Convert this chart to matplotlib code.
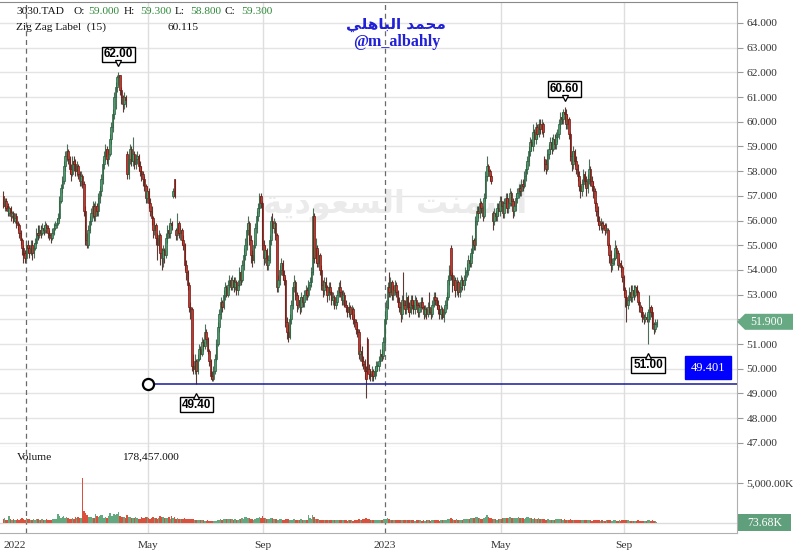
import matplotlib
matplotlib.use("Agg")
import matplotlib.pyplot as plt
import numpy as np
from matplotlib.patches import Polygon
from matplotlib.transforms import IdentityTransform, offset_copy

# ---------------- data ----------------
opens = [
57.0,56.6,56.8,56.6,56.3,56.5,56.2,56.3,56.0,56.2,
55.9,55.8,55.5,55.2,54.9,54.7,54.5,55.0,54.9,54.7,
55.0,54.7,54.9,55.1,55.5,55.4,55.6,55.5,55.7,55.6,
55.8,55.7,55.5,55.4,55.3,55.5,55.7,55.8,55.9,56.1,
56.8,57.3,57.6,58.2,58.6,58.8,58.5,58.1,57.9,58.4,
58.3,58.0,58.2,57.9,57.6,57.8,57.5,56.4,55.2,55.0,
55.6,56.0,56.3,56.6,56.2,56.6,56.4,56.9,57.2,57.7,
58.3,58.6,58.9,58.5,58.7,59.3,59.8,60.3,61.0,61.4,
61.8,61.9,61.3,61.0,60.7,61.0,58.7,57.9,58.5,58.9,
58.4,58.7,58.3,58.5,58.6,58.2,58.0,57.9,57.7,57.4,
56.9,57.2,56.7,56.4,56.1,55.6,55.8,55.3,55.0,55.4,
54.7,54.5,54.8,54.6,55.3,55.6,55.5,55.9,57.0,57.7,
55.6,55.4,55.9,55.5,55.6,55.2,55.0,54.2,53.9,53.4,
52.5,52.4,50.1,50.0,50.3,49.9,50.4,50.8,50.6,51.1,
50.9,51.5,51.2,50.7,50.3,49.7,49.6,49.9,50.4,51.0,
51.7,52.2,52.7,52.5,53.0,53.3,53.0,53.4,53.6,53.3,
53.6,53.3,53.5,53.2,53.4,53.9,53.6,54.2,54.6,55.0,
55.6,55.9,55.2,54.6,54.4,55.0,55.7,56.2,56.5,57.0,
56.7,55.0,54.5,54.8,54.2,54.4,55.2,56.0,55.7,55.9,
55.4,53.3,53.6,54.0,54.3,53.8,53.6,51.9,51.5,51.3,
52.0,52.6,53.3,53.5,53.0,52.6,52.8,52.5,52.9,52.7,
53.0,53.2,53.0,53.4,53.5,53.9,56.2,54.5,54.9,54.3,
54.6,54.0,53.4,53.2,53.5,53.3,53.0,53.3,53.1,52.8,
52.9,52.6,52.7,53.0,53.3,53.1,52.8,53.0,52.6,52.5,
52.3,52.5,52.2,52.4,52.0,51.9,51.6,51.5,50.6,50.7,
50.3,50.2,49.9,51.2,50.0,49.8,49.7,49.9,49.7,49.9,
50.1,50.1,50.3,50.6,50.5,51.1,52.0,52.5,53.3,53.1,
53.5,53.0,53.2,53.4,53.1,52.7,52.5,52.2,52.8,52.6,
52.4,52.9,52.5,52.3,52.8,52.6,52.4,52.8,52.6,52.3,
52.5,52.7,52.5,52.2,52.4,52.2,52.5,52.3,52.2,52.6,
52.9,52.8,52.6,52.4,52.2,52.4,52.1,52.3,52.6,52.9,
53.6,54.9,53.8,53.4,53.6,53.2,53.5,53.1,53.3,53.6,
53.4,53.6,53.9,54.0,54.4,54.3,54.7,55.2,55.0,56.0,
56.4,56.3,56.7,56.5,56.2,56.9,57.8,58.2,58.0,57.8,
56.3,56.0,56.3,56.2,56.5,56.4,56.8,56.6,56.3,56.7,
56.9,56.5,56.7,57.1,56.8,56.4,56.6,56.9,57.1,57.3,
57.2,57.5,57.4,57.8,58.1,58.4,58.8,59.2,59.0,59.6,
59.3,59.8,59.5,59.9,59.7,59.9,58.5,58.3,58.1,58.7,
58.9,59.2,58.9,59.3,59.1,59.4,59.5,59.9,60.2,60.1,
60.4,60.3,59.9,60.1,59.5,58.6,58.3,58.8,58.4,58.1,
57.8,57.4,57.2,57.5,57.9,57.6,57.3,57.7,58.1,57.6,
57.4,57.2,56.7,56.4,56.0,55.8,55.9,55.7,55.8,55.6,
55.6,55.0,54.6,54.2,54.3,54.5,54.9,54.7,54.2,54.3,
54.1,53.7,53.2,52.9,52.6,52.8,53.1,52.9,53.2,53.0,
53.3,53.1,52.7,52.5,52.3,52.1,52.0,52.1,52.0,52.0,
52.5,52.3,51.8,51.6,51.8]

highs = [
57.2,56.9,56.9,56.7,56.6,56.6,56.4,56.4,56.3,56.3,
56.0,55.9,55.6,55.3,55.0,54.8,55.2,55.2,55.0,55.2,
55.2,55.1,55.3,55.7,55.8,55.8,55.8,55.9,55.8,56.0,
55.9,55.8,55.6,55.5,55.7,55.9,56.0,56.1,56.3,57.0,
57.5,57.8,58.4,58.8,59.1,58.9,58.6,58.3,58.6,58.6,
58.5,58.4,58.3,58.0,58.0,57.9,57.6,56.6,55.5,55.8,
56.2,56.5,56.8,56.7,56.8,56.7,57.1,57.4,57.9,58.5,
58.8,59.1,59.0,58.9,59.5,60.0,60.5,61.2,61.6,61.9,
62.0,61.9,61.4,61.1,61.2,61.1,58.8,58.7,59.1,59.0,
59.4,58.8,58.7,58.8,58.7,58.4,58.2,58.0,57.8,57.5,
57.4,57.3,56.9,56.6,56.2,56.0,55.9,55.5,55.6,55.5,
54.9,55.0,54.9,55.5,55.8,55.8,56.1,56.0,57.3,57.7,
55.7,56.3,56.0,55.8,55.7,55.4,55.1,54.4,54.0,53.5,
52.7,52.5,50.6,50.6,50.4,50.6,51.0,50.9,51.3,51.2,
51.8,51.6,51.3,50.8,50.4,49.9,50.1,50.6,51.2,51.9,
52.4,52.9,52.8,53.2,53.5,53.4,53.6,53.8,53.7,53.8,
53.7,53.7,53.6,53.6,54.1,54.0,54.4,54.9,55.3,55.9,
56.2,56.0,55.4,54.8,55.2,55.9,56.4,56.7,57.1,57.1,
56.8,55.2,55.0,54.9,54.6,55.4,56.2,56.3,56.1,56.0,
55.5,53.8,54.2,54.5,54.4,54.0,53.7,52.1,51.8,52.2,
52.8,53.5,53.8,53.6,53.1,53.0,52.9,53.1,53.0,53.2,
53.4,53.3,53.6,53.7,54.1,56.5,56.3,55.3,55.0,54.8,
54.7,54.2,53.6,53.7,53.7,53.4,53.5,53.5,53.2,53.1,
53.0,52.9,53.2,53.5,53.6,53.2,53.2,53.1,52.8,52.6,
52.7,52.6,52.6,52.5,52.2,52.0,51.8,51.6,51.0,50.9,
50.5,50.4,50.1,51.3,50.2,50.0,50.1,50.0,50.1,50.3,
50.3,50.5,50.8,50.8,51.3,52.2,52.8,53.5,53.9,53.7,
53.6,53.4,53.6,53.5,53.2,52.9,52.7,53.0,53.9,52.8,
53.1,53.0,52.7,53.0,53.0,52.8,53.0,52.9,52.7,52.7,
52.9,52.9,52.6,52.6,52.5,52.7,53.1,52.5,52.8,53.1,
53.1,52.9,52.8,52.6,52.6,52.5,52.5,52.8,53.1,53.8,
54.2,55.0,53.9,53.8,53.7,53.7,53.6,53.5,53.8,53.7,
53.8,54.1,54.3,54.6,54.6,54.9,55.4,55.3,56.2,56.6,
56.6,56.9,56.8,56.6,57.1,58.0,58.6,58.3,58.1,57.9,
56.4,56.5,56.4,56.7,56.7,57.0,57.0,56.8,56.9,57.1,
57.1,56.9,57.3,57.2,56.9,56.8,57.1,57.3,57.5,57.5,
57.7,57.7,58.0,58.3,58.6,59.0,59.4,59.3,59.9,59.7,
60.0,59.9,60.1,60.1,60.1,60.0,58.6,58.5,58.9,59.1,
59.4,59.4,59.5,59.5,59.6,59.7,60.1,60.4,60.4,60.5,
60.6,60.5,60.3,60.2,59.6,58.8,59.0,58.9,58.6,58.3,
58.0,57.6,57.7,58.1,58.0,57.8,57.9,58.5,58.2,57.8,
57.6,57.3,56.8,56.6,56.2,56.1,56.0,56.0,55.9,55.9,
55.7,55.1,54.8,54.5,54.7,55.2,55.0,54.8,54.5,54.4,
54.2,53.8,53.3,53.0,53.0,53.3,53.4,53.4,53.4,53.4,
53.4,53.2,52.8,52.6,52.5,52.2,52.3,52.2,52.4,53.0,
52.6,52.5,51.9,52.0,52.0]

lows = [
56.5,56.4,56.4,56.2,56.2,56.0,56.1,55.9,55.9,55.7,
55.6,55.3,55.0,54.6,54.3,54.3,54.4,54.7,54.5,54.6,
54.4,54.5,54.8,55.0,55.2,55.3,55.3,55.4,55.4,55.5,
55.5,55.3,55.2,55.1,55.2,55.4,55.6,55.7,55.8,56.0,
56.7,57.1,57.5,58.0,58.4,58.3,57.9,57.6,57.8,58.0,
57.8,57.8,57.7,57.4,57.4,57.3,56.2,55.0,54.9,54.9,
55.5,55.8,56.1,56.0,56.0,56.2,56.2,56.7,57.0,57.5,
58.1,58.4,58.3,58.2,58.6,59.1,59.6,60.1,60.5,61.2,
61.5,61.1,60.7,60.4,60.5,60.6,57.7,57.7,58.3,58.2,
58.2,58.1,58.1,58.3,58.0,57.8,57.6,57.4,57.2,56.7,
56.7,56.5,56.2,55.8,55.3,55.4,55.0,54.4,54.8,54.2,
54.0,54.1,54.3,54.5,55.1,55.3,55.3,55.6,56.9,56.9,
55.2,55.2,55.3,55.2,55.0,54.8,54.0,53.6,53.2,52.3,
52.0,49.9,49.8,49.8,49.4,49.8,50.3,50.4,50.5,50.7,
50.8,51.0,50.6,50.1,49.6,49.5,49.5,49.8,50.3,50.9,
51.5,52.0,52.3,52.4,52.8,52.9,52.9,53.2,53.2,53.2,
53.1,53.2,53.0,53.0,53.3,53.4,53.5,54.0,54.4,54.8,
55.4,55.0,54.3,54.1,54.3,54.9,55.5,56.0,56.3,56.5,
54.8,54.2,54.3,54.0,54.0,54.3,55.0,55.5,55.5,55.2,
53.1,53.1,53.4,53.8,53.6,53.4,51.7,51.2,51.1,51.2,
51.8,52.4,53.1,52.8,52.3,52.4,52.2,52.3,52.5,52.5,
52.8,52.8,52.9,53.2,53.3,53.8,54.3,54.3,54.1,54.1,
53.8,53.2,52.9,53.0,53.1,52.7,52.8,53.0,52.6,52.6,
52.4,52.4,52.6,52.9,52.9,52.6,52.6,52.5,52.3,52.1,
52.1,52.0,52.0,51.8,51.7,51.4,51.3,50.4,50.3,50.1,
50.0,49.6,48.8,49.8,49.6,49.5,49.5,49.5,49.6,49.7,
49.9,49.9,50.2,50.3,50.4,50.9,51.8,52.4,52.9,52.9,
52.8,52.8,53.0,52.9,52.5,52.3,51.9,52.0,52.4,52.2,
52.2,52.3,52.1,52.2,52.4,52.2,52.2,52.4,52.1,52.1,
52.3,52.4,52.0,52.1,52.0,52.1,52.2,52.0,52.1,52.5,
52.6,52.4,52.2,52.0,52.0,52.0,51.9,52.2,52.4,52.8,
53.4,53.6,53.1,53.2,52.9,53.0,52.9,52.9,53.1,53.2,
53.2,53.4,53.7,53.8,54.1,54.1,54.5,54.8,54.8,55.8,
56.1,56.1,56.3,56.0,56.1,56.8,57.6,57.8,57.6,57.5,
55.6,55.8,56.0,56.0,56.2,56.2,56.4,56.1,56.1,56.5,
56.3,56.3,56.6,56.6,56.1,56.2,56.4,56.7,56.9,57.0,
57.0,57.2,57.3,57.6,57.9,58.2,58.6,58.8,58.8,59.1,
59.1,59.3,59.4,59.5,59.5,59.4,58.0,57.9,58.0,58.5,
58.7,58.7,58.8,58.9,58.9,59.2,59.3,59.7,59.9,59.9,
60.0,59.7,59.7,59.3,58.4,58.0,58.1,58.2,57.9,57.6,
57.2,56.9,57.0,57.3,57.4,57.0,57.1,57.5,57.4,57.2,
56.9,56.5,56.2,55.8,55.6,55.6,55.5,55.6,55.4,55.5,
54.9,54.3,53.9,54.0,54.2,54.4,54.5,54.0,54.1,53.9,
53.5,53.0,52.5,51.9,52.4,52.7,52.7,52.7,52.8,52.9,
52.9,52.6,52.3,52.1,51.9,51.8,51.9,51.9,51.0,51.9,
52.1,51.6,51.4,51.5,51.7]

closes = [
56.6,56.8,56.5,56.4,56.5,56.2,56.3,56.0,56.1,55.9,
55.8,55.5,55.2,54.9,54.6,54.5,55.0,54.9,54.7,55.0,
54.7,54.9,55.1,55.5,55.4,55.6,55.5,55.7,55.6,55.8,
55.7,55.5,55.4,55.3,55.5,55.7,55.8,55.9,56.1,56.8,
57.3,57.6,58.2,58.6,58.8,58.5,58.1,57.9,58.4,58.3,
58.0,58.2,57.9,57.6,57.8,57.5,56.4,55.2,55.0,55.6,
56.0,56.3,56.6,56.2,56.6,56.4,56.9,57.2,57.7,58.3,
58.6,58.9,58.5,58.7,59.3,59.8,60.3,61.0,61.4,61.8,
61.9,61.3,61.0,60.7,61.0,60.9,57.9,58.5,58.9,58.4,
58.7,58.3,58.5,58.6,58.2,58.0,57.9,57.7,57.4,56.9,
57.2,56.7,56.4,56.1,55.6,55.8,55.3,55.0,55.4,54.7,
54.5,54.8,54.6,55.3,55.6,55.5,55.9,55.8,57.2,57.0,
55.4,55.9,55.5,55.6,55.2,55.0,54.2,53.9,53.4,52.5,
52.4,50.1,50.0,50.3,49.9,50.4,50.8,50.6,51.1,50.9,
51.5,51.2,50.7,50.3,49.7,49.6,49.9,50.4,51.0,51.7,
52.2,52.7,52.5,53.0,53.3,53.0,53.4,53.6,53.3,53.6,
53.3,53.5,53.2,53.4,53.9,53.6,54.2,54.6,55.0,55.6,
55.9,55.2,54.6,54.4,55.0,55.7,56.2,56.5,57.0,56.7,
55.0,54.5,54.8,54.2,54.4,55.2,56.0,55.7,55.9,55.4,
53.3,53.6,54.0,54.3,53.8,53.6,51.9,51.5,51.3,52.0,
52.6,53.3,53.5,53.0,52.6,52.8,52.5,52.9,52.7,53.0,
53.2,53.0,53.4,53.5,53.9,56.2,54.5,54.9,54.3,54.6,
54.0,53.4,53.2,53.5,53.3,53.0,53.3,53.1,52.8,52.9,
52.6,52.7,53.0,53.3,53.1,52.8,53.0,52.6,52.5,52.3,
52.5,52.2,52.4,52.0,51.9,51.6,51.5,50.6,50.7,50.3,
50.2,49.9,49.6,50.0,49.8,49.7,49.9,49.7,49.9,50.1,
50.1,50.3,50.6,50.5,51.1,52.0,52.5,53.3,53.1,53.5,
53.0,53.2,53.4,53.1,52.7,52.5,52.2,52.8,52.6,52.4,
52.9,52.5,52.3,52.8,52.6,52.4,52.8,52.6,52.3,52.5,
52.7,52.5,52.2,52.4,52.2,52.5,52.3,52.2,52.6,52.9,
52.8,52.6,52.4,52.2,52.4,52.1,52.3,52.6,52.9,53.6,
54.0,53.8,53.4,53.6,53.2,53.5,53.1,53.3,53.6,53.4,
53.6,53.9,54.0,54.4,54.3,54.7,55.2,55.0,56.0,56.4,
56.3,56.7,56.5,56.2,56.9,57.8,58.2,58.0,57.8,57.6,
56.0,56.3,56.2,56.5,56.4,56.8,56.6,56.3,56.7,56.9,
56.5,56.7,57.1,56.8,56.4,56.6,56.9,57.1,57.3,57.2,
57.5,57.4,57.8,58.1,58.4,58.8,59.2,59.0,59.6,59.3,
59.8,59.5,59.9,59.7,59.9,59.6,58.3,58.1,58.7,58.9,
59.2,58.9,59.3,59.1,59.4,59.5,59.9,60.2,60.1,60.4,
60.3,59.9,60.1,59.5,58.6,58.3,58.8,58.4,58.1,57.8,
57.4,57.2,57.5,57.9,57.6,57.3,57.7,58.1,57.6,57.4,
57.2,56.7,56.4,56.0,55.8,55.9,55.7,55.8,55.6,55.7,
55.0,54.6,54.2,54.3,54.5,54.9,54.7,54.2,54.3,54.1,
53.7,53.2,52.9,52.6,52.8,53.1,52.9,53.2,53.0,53.3,
53.1,52.7,52.5,52.3,52.1,52.0,52.1,52.0,52.3,52.5,
52.3,51.8,51.6,51.8,51.9]

volumes_k = [
520,610,430,380,880,450,400,510,360,420,
470,390,520,640,560,430,610,480,450,390,
420,510,380,450,470,360,420,490,380,410,
440,380,360,420,470,510,480,540,1150,820,
640,700,860,590,720,650,560,480,620,540,
780,640,720,580,610,5630,1450,1200,980,760,
690,720,650,580,1100,820,760,880,940,1050,
680,760,590,820,1250,900,870,1180,960,1120,
1350,880,760,690,720,640,980,760,690,620,
640,580,720,660,510,560,690,620,580,720,
780,640,560,590,720,660,570,530,610,840,
760,690,620,580,640,710,560,920,640,700,
560,590,520,480,530,560,610,520,480,560,
470,520,480,430,390,420,350,380,330,360,
310,290,330,270,240,260,230,250,290,380,
420,460,390,510,560,480,460,520,480,450,
420,460,390,430,560,520,610,480,760,690,
580,620,540,460,420,510,580,640,720,590,
840,680,590,520,480,540,620,580,470,520,
490,430,470,450,380,420,560,510,440,420,
390,420,460,380,360,340,410,450,390,360,
380,420,1050,680,540,980,760,520,460,480,
430,390,410,360,380,350,420,390,360,340,
320,350,390,410,370,340,380,360,330,310,
340,360,320,300,350,380,420,460,410,430,
480,520,620,560,450,420,390,370,400,380,
360,390,420,380,450,560,520,640,480,430,
410,380,360,340,390,370,350,420,380,360,
340,370,350,320,360,340,310,350,330,320,
340,310,330,300,320,350,330,310,340,380,
360,340,320,310,330,350,320,340,380,520,
560,640,480,420,390,440,410,380,420,400,
450,480,520,560,490,610,640,580,720,760,
620,580,540,520,680,760,980,720,640,580,
520,480,450,430,470,510,560,590,620,680,
640,590,720,660,610,570,630,680,720,650,
620,580,560,610,690,720,640,590,560,610,
560,520,590,540,510,480,460,420,450,480,
430,410,390,420,450,470,520,480,460,430,
450,420,400,380,450,410,380,360,390,370,
340,360,330,350,320,340,370,350,330,310,
340,320,360,380,330,300,320,290,310,330,
340,360,320,300,330,350,310,290,320,300,
350,330,380,360,320,300,310,290,300,280,
300,320,290,310,280,300,290,270,390,330,
300,320,280,260,74]

date_labels = ["2022", "May", "Sep", "2023", "May", "Sep"]
date_positions = [15.6, 100.3, 180.7, 265.3, 346.1, 431.3]   # bar-index positions of month starts
year_flags = [True, False, False, True, False, False]
price_ticks = list(range(47, 65))
zigzag_idx = [80, 134, 390, 448]
zigzag_val = [62.00, 49.40, 60.60, 51.00]
zigzag_up = [True, False, True, False]
level_value = 49.40
level_label = "49.401"
header_ohlc = [("O:", "59.000"), ("H:", "59.300"), ("L:", "58.800"), ("C:", "59.300")]
zigzag_header = "60.115"
volume_header = "178,457.000"
last_volume_label = "73.68K"

# ---------------- figure ----------------
W, H = 793, 555
fig = plt.figure(figsize=(W / 100, H / 100), dpi=100)
fig.patch.set_facecolor("white")

def fx(px):
    return px / W

def fy(py):
    return 1 - py / H

ax = fig.add_axes([0, fy(447), fx(737), fy(2) - fy(447)])
vax = fig.add_axes([0, fy(533), fx(737), fy(447) - fy(533)])

n = len(closes)
x = np.arange(n)
o = np.array(opens); c = np.array(closes); h = np.array(highs); l = np.array(lows)
up = c >= o

RED_FACE, RED_EDGE = "#bf3a2e", "#6e1a14"
GRN_FACE, GRN_EDGE = "#4f9a6c", "#2a5d3f"

xlim = (-2.3, 509.8)
for a in (ax, vax):
    a.set_xlim(*xlim)
    a.set_facecolor("white")
    for p, yr in zip(date_positions, year_flags):
        if yr:
            a.axvline(p, color="#6a6a6a", lw=0.9, ls=(0, (4, 3)), zorder=1)
        else:
            a.axvline(p, color="#dedede", lw=1.0, zorder=0.5)

# price grid
ax.set_ylim(46.83, 64.85)
for t in price_ticks:
    ax.axhline(t, color="#e4e4e4", lw=1.0, zorder=0.4)

# wicks
ax.vlines(x, l, h, colors=np.where(up, "#4c6e5a", "#5a3a36"), lw=0.8, zorder=2)
# bodies
bottoms = np.minimum(o, c)
heights = np.maximum(np.abs(c - o), 0.04)
ax.bar(x, heights, bottom=bottoms, width=1.05,
       color=np.where(up, GRN_FACE, RED_FACE),
       edgecolor=np.where(up, GRN_EDGE, RED_EDGE), linewidth=0.5, zorder=3)

# horizontal level line with circle
ax.plot([date_positions[1], xlim[1]], [level_value, level_value], color="#1a1a9a", lw=1.1, zorder=4)
ax.plot([date_positions[1]], [level_value], marker="o", ms=8, mfc="white", mec="black", mew=1.6, zorder=6)

# zigzag labels
for i, v, isup in zip(zigzag_idx, zigzag_val, zigzag_up):
    dy = 18 if isup else -21
    ax.annotate(f"{v:.2f}", xy=(i, v), xytext=(0, dy), textcoords="offset pixels",
                ha="center", va="center", fontsize=8.5, fontweight="bold",
                family="Liberation Sans", color="black", zorder=8,
                bbox=dict(boxstyle="square,pad=0.15", fc="white", ec="black", lw=1.0))
    mk = "v" if isup else "^"
    off = dy - 9 if isup else dy + 9
    tr = offset_copy(ax.transData, fig=fig, x=0, y=off, units="dots")
    ax.plot([i], [v], marker=mk, ms=4.2, mfc="white", mec="black", mew=0.9,
            transform=tr, zorder=9, clip_on=False)

# level value label (blue box)
ax.annotate(level_label, xy=(0.961, level_value), xycoords=ax.get_yaxis_transform(),
            xytext=(0, 16), textcoords="offset pixels", ha="center", va="center",
            fontsize=9, family="Liberation Serif", color="white", zorder=8,
            bbox=dict(boxstyle="square,pad=0.45", fc="#0000ff", ec="#0000ff"))

# watermark (Arabic presentation forms, visual order)
wm_logical = "\uFE83\uFEB3\uFEE4\uFEE8\uFE96 \uFE8D\uFEDF\uFEB4\uFECC\uFEEE\uFEA9\uFEF3\uFE94"
wm = "".join(reversed(wm_logical))
ax.text(0.536, 0.552, wm, transform=ax.transAxes, ha="center", va="center",
        fontsize=23, fontweight="bold", family="DejaVu Sans", color="#ebebeb", zorder=0.6)

# axes styling
ax.yaxis.tick_right()
ax.set_yticks(price_ticks)
# the 52.000 label sits under the last-price tag in the reference
ax.set_yticklabels(["" if t == 52 else f"{t:.3f}" for t in price_ticks])
ax.tick_params(axis="y", length=4, color="#9a9a9a", labelcolor="#333333", pad=3,
               labelsize=8.2, labelfontfamily="Liberation Serif")
ax.set_xticks([])
ax.spines["left"].set_visible(False)
ax.spines["top"].set_color("#8a8a8a")
ax.spines["right"].set_color("#b0b0b0")
ax.spines["bottom"].set_color("#9a9a9a")

# volume panel
vax.set_ylim(-1250, 9500)
vax.axhline(0, color="#dcdcdc", lw=1.0, zorder=0.4)
vax.axhline(5000, color="#dcdcdc", lw=1.0, zorder=0.4)
vcol = np.where(up, "#64a87f", "#d9503c")
vax.bar(x, volumes_k, width=1.0, color=vcol, linewidth=0, zorder=3)
vax.yaxis.tick_right()
vax.set_yticks([5000])
vax.set_yticklabels(["5,000.00K"])
vax.tick_params(axis="y", length=4, color="#9a9a9a", labelcolor="#333333", pad=3,
                labelsize=8.2, labelfontfamily="Liberation Serif")
vax.set_xticks(date_positions)
vax.set_xticklabels(date_labels)
vax.tick_params(axis="x", length=0, pad=6, labelsize=8.2, labelcolor="#333333",
                labelfontfamily="Liberation Serif")
vax.get_xticklabels()[0].set_horizontalalignment("right")
vax.spines["left"].set_visible(False)
vax.spines["top"].set_visible(False)
vax.spines["right"].set_color("#b0b0b0")
vax.spines["bottom"].set_color("#b0b0b0")

# last price tag (green arrow-shaped)
fig.canvas.draw()
yd = ax.transData.transform((0, closes[-1]))[1]
xr = fx(737) * W
pts = [(xr, yd), (xr + 8, yd + 8), (W, yd + 8), (W, yd - 8), (xr + 8, yd - 8)]
fig.add_artist(Polygon(pts, closed=True, transform=IdentityTransform(), fc="#66a983", ec="none", zorder=10))
fig.text((xr + 4 + W) / 2 / W, yd / H, f"{closes[-1]:.3f}", ha="center", va="center",
         fontsize=8.5, family="Liberation Serif", color="white", zorder=11)

# last volume tag
fig.add_artist(Polygon([(738, H - 514), (791, H - 514), (791, H - 531), (738, H - 531)], closed=True,
                       transform=IdentityTransform(), fc="#5f9f7b", ec="none", zorder=10))
fig.text(764.5 / W, fy(522.5), last_volume_label, ha="center", va="center",
         fontsize=8.5, family="Liberation Serif", color="white", zorder=11)

# header texts
serif = "Liberation Serif"
fig.text(fx(16), fy(11), "3030.TAD", ha="left", va="center", fontsize=8.2, family=serif, color="#111111")
label_x = [73, 124, 175, 224]
value_x = [88, 140, 190, 241]
for (lab, val), lx, vx in zip(header_ohlc, label_x, value_x):
    fig.text(fx(lx), fy(11), lab, ha="left", va="center", fontsize=8.2, family=serif, color="#111111")
    fig.text(fx(vx), fy(11), val, ha="left", va="center", fontsize=8.2, family=serif, color="#2f8a3a")
fig.text(fx(16), fy(27), "Zig Zag Label  (15)", ha="left", va="center", fontsize=8.2, family=serif, color="#111111")
fig.text(fx(168), fy(27), zigzag_header, ha="left", va="center", fontsize=8.2, family=serif, color="#111111")
fig.text(fx(17), fy(457), "Volume", ha="left", va="center", fontsize=8.2, family=serif, color="#111111")
fig.text(fx(122), fy(457), volume_header, ha="left", va="center", fontsize=8.2, family=serif, color="#111111")

# author texts
name_logical = "\uFEE3\uFEA4\uFEE4\uFEAA \uFE8D\uFEDF\uFE92\uFE8E\uFEEB\uFEE0\uFEF2"
name_vis = "".join(reversed(name_logical))
fig.text(fx(396), fy(24), name_vis, ha="center", va="center", fontsize=11, fontweight="bold",
         family="DejaVu Sans", color="#2020d8")
fig.text(fx(397), fy(42), "@m_albahly", ha="center", va="center", fontsize=11.5, fontweight="bold",
         family=serif, color="#2020d8")

fig.savefig("out.png", dpi=100, facecolor="white")
